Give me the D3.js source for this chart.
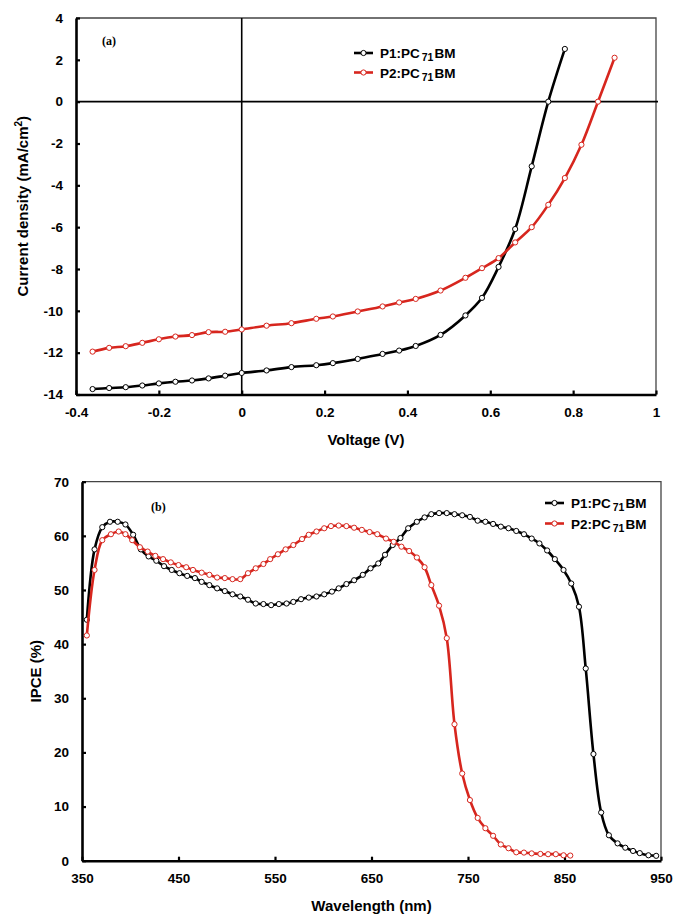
<!DOCTYPE html>
<html>
<head>
<meta charset="utf-8">
<script src="https://cdn.jsdelivr.net/npm/d3@7"></script>
<style>
  body { margin: 0; background: #fff; }
  svg text { font-family: "Liberation Sans", Arial, sans-serif; font-weight: bold; fill: #000; }
</style>
</head>
<body>
<div id="chart"></div>
<script>
// (a) J-V curves
var voltage_p1 = [-0.36, -0.32, -0.28, -0.24, -0.2, -0.16, -0.12, -0.08, -0.04, 0, 0.06, 0.12, 0.18, 0.22,
  0.28, 0.34, 0.38, 0.42, 0.48, 0.54, 0.58, 0.62, 0.66, 0.70, 0.74, 0.78];
var current_p1 = [-13.74, -13.69, -13.65, -13.57, -13.47, -13.39, -13.33, -13.23, -13.1, -12.97, -12.85, -12.69, -12.6, -12.5,
  -12.3, -12.06, -11.9, -11.68, -11.15, -10.22, -9.38, -7.9, -6.09, -3.09, 0, 2.52];
var voltage_p2 = [-0.36, -0.32, -0.28, -0.24, -0.2, -0.16, -0.12, -0.08, -0.04, 0, 0.06, 0.12, 0.18, 0.22,
  0.28, 0.34, 0.38, 0.42, 0.48, 0.54, 0.58, 0.62, 0.66, 0.70, 0.74, 0.78, 0.82, 0.86, 0.90];
var current_p2 = [-11.95, -11.77, -11.69, -11.53, -11.36, -11.23, -11.16, -11.02, -11.0, -10.89, -10.71, -10.59, -10.38, -10.27,
  -10.03, -9.79, -9.6, -9.43, -9.03, -8.42, -7.96, -7.48, -6.73, -6.0, -4.93, -3.65, -2.06, 0, 2.1];
var voltage_ticks = [-0.4, -0.2, 0, 0.2, 0.4, 0.6, 0.8, 1];
var current_ticks = [4, 2, 0, -2, -4, -6, -8, -10, -12, -14];

// (b) IPCE spectra
var wavelength_p1 = [355, 363, 371, 379, 387, 395, 403, 411, 419, 427, 435, 443, 451, 459, 467, 474, 482, 490, 498, 506,
  514, 522, 530, 538, 546, 554, 562, 569, 577, 585, 593, 601, 609, 616, 624, 632, 641, 649, 657, 664,
  672, 680, 688, 697, 705, 712, 720, 728, 736, 744, 752, 760, 768, 776, 784, 792, 800, 808, 816, 824,
  832, 840, 849, 857, 865, 872, 880, 888, 896, 905, 913, 921, 928, 937, 945];
var ipce_p1 = [44.5, 57.5, 61.6, 62.6, 62.6, 62.1, 60.2, 57.5, 56.2, 55.4, 54.4, 53.7, 53.1, 52.6, 52.2, 51.5, 50.9, 50.3, 49.8, 49.2,
  48.8, 48.2, 47.5, 47.4, 47.2, 47.4, 47.5, 47.8, 48.3, 48.6, 48.8, 49.2, 49.7, 50.3, 51.1, 51.8, 52.8, 54.0, 54.9, 56.5,
  58.3, 59.6, 61.4, 62.6, 63.4, 64.0, 64.2, 64.2, 64.0, 63.8, 63.5, 62.8, 62.6, 62.2, 61.7, 61.4, 60.9, 60.3, 59.5, 58.6,
  57.3, 55.7, 53.7, 51.2, 46.9, 35.5, 19.7, 8.9, 4.7, 3.2, 2.4, 1.8, 1.4, 1.0, 0.9];
var wavelength_p2 = [355, 363, 371, 380, 388, 395, 402, 410, 418, 426, 434, 442, 450, 458, 465, 474, 482, 490, 498, 506,
  514, 522, 530, 538, 545, 553, 561, 569, 578, 585, 593, 601, 608, 616, 624, 632, 640, 648, 656, 665,
  673, 681, 689, 697, 705, 712, 720, 728, 736, 744, 752, 760, 768, 776, 784, 792, 800, 808, 816, 825,
  833, 841, 849, 856];
var ipce_p2 = [41.6, 53.7, 59.2, 60.3, 60.8, 60.3, 59.2, 57.9, 57.1, 56.3, 55.7, 55.1, 54.6, 54.2, 53.7, 53.2, 52.8, 52.3, 52.2, 52.0,
  52.0, 53.1, 54.0, 54.8, 55.7, 56.6, 57.5, 58.3, 59.4, 60.2, 60.8, 61.4, 61.8, 61.9, 61.8, 61.5, 61.1, 60.7, 60.3, 59.5,
  58.9, 58.0, 57.2, 56.0, 54.2, 50.9, 47.1, 41.1, 25.2, 16.1, 11.2, 7.9, 6.0, 4.6, 3.0, 2.3, 1.55, 1.5, 1.35, 1.25,
  1.2, 1.2, 1.0, 0.95];
var wavelength_ticks = [350, 450, 550, 650, 750, 850, 950];
var ipce_ticks = [0, 10, 20, 30, 40, 50, 60, 70];

var series_names = ['P1:PC', 'P2:PC'];
var series_colors = ['#000000', '#d7261e'];

var svg = d3.select('#chart')
  .append('svg')
  .attr('width', 674)
  .attr('height', 916);

function zip(xs, ys) {
  return xs.map(function(x, i) { return { x: x, y: ys[i] }; });
}

// plain hyphen for negative tick labels, like the original
function tick_text(d) {
  return String(d);
}

// draws one panel: frame, axes, curves, legend
function draw_panel(opt) {
  var g = svg.append('g');
  var x = opt.x_scale, y = opt.y_scale;
  var x0 = x.range()[0], x1 = x.range()[1];
  var y0 = y.range()[0], y1 = y.range()[1];

  // thin top/right frame
  g.append('path')
    .attr('d', 'M' + x0 + ',' + y1 + 'H' + x1 + 'V' + y0)
    .attr('fill', 'none')
    .attr('stroke', '#444')
    .attr('stroke-width', 1.3);

  if (opt.zero_lines) {
    g.append('line')
      .attr('x1', x0).attr('x2', x1 + 2)
      .attr('y1', y(0)).attr('y2', y(0))
      .attr('stroke', '#000').attr('stroke-width', 1.6);
    g.append('line')
      .attr('x1', x(0)).attr('x2', x(0))
      .attr('y1', y1).attr('y2', y0)
      .attr('stroke', '#000').attr('stroke-width', 1.6);
  }

  var x_axis = g.append('g')
    .attr('transform', 'translate(0,' + y0 + ')')
    .call(d3.axisBottom(x).tickValues(opt.x_ticks).tickSizeInner(-4).tickSizeOuter(0)
      .tickPadding(13).tickFormat(tick_text));
  var y_axis = g.append('g')
    .attr('transform', 'translate(' + x0 + ',0)')
    .call(d3.axisLeft(y).tickValues(opt.y_ticks).tickSizeInner(-4).tickSizeOuter(0)
      .tickPadding(opt.y_pad).tickFormat(tick_text));
  [x_axis, y_axis].forEach(function(a) {
    a.select('.domain').attr('stroke', '#000').attr('stroke-width', 2.6);
    a.selectAll('.tick line').attr('stroke', '#000').attr('stroke-width', 2.2);
    a.selectAll('.tick text').attr('font-size', '13.5px').attr('fill', '#000');
  });

  var line = d3.line()
    .x(function(d) { return x(d.x); })
    .y(function(d) { return y(d.y); })
    .curve(d3.curveCatmullRom.alpha(0.5));

  opt.series.forEach(function(s, i) {
    g.append('path')
      .datum(s)
      .attr('d', line)
      .attr('fill', 'none')
      .attr('stroke', series_colors[i])
      .attr('stroke-width', 2.6);
    g.selectAll('circle.s' + i)
      .data(s)
      .enter()
      .append('circle')
      .attr('cx', function(d) { return x(d.x); })
      .attr('cy', function(d) { return y(d.y); })
      .attr('r', 2.6)
      .attr('fill', '#fff')
      .attr('stroke', series_colors[i])
      .attr('stroke-width', 1);
  });

  // legend
  series_names.forEach(function(name, i) {
    var ly = opt.legend_y + i * opt.legend_gap;
    var lx = opt.legend_x;
    g.append('line')
      .attr('x1', lx).attr('x2', lx + 19)
      .attr('y1', ly).attr('y2', ly)
      .attr('stroke', series_colors[i]).attr('stroke-width', 2.6);
    g.append('circle')
      .attr('cx', lx + 9.5).attr('cy', ly).attr('r', 2.6)
      .attr('fill', '#fff').attr('stroke', series_colors[i]).attr('stroke-width', 1);
    var t = g.append('text')
      .attr('x', lx + 26).attr('y', ly + 5)
      .attr('font-size', '13.5px');
    t.append('tspan').text(name);
    t.append('tspan').attr('font-size', '10.5px').attr('dx', 2).attr('dy', 3).text('71');
    t.append('tspan').attr('dx', 1).attr('dy', -3).text('BM');
  });

  // panel tag
  g.append('text')
    .attr('x', opt.tag_x).attr('y', opt.tag_y)
    .attr('font-size', '12px')
    .style('font-family', '"Liberation Serif", "Times New Roman", serif')
    .text(opt.tag);

  // axis titles
  g.append('text')
    .attr('x', (x0 + x1) / 2).attr('y', opt.x_title_y)
    .attr('text-anchor', 'middle')
    .attr('font-size', '15px')
    .text(opt.x_title);
  var yt = g.append('text')
    .attr('transform', 'translate(' + opt.y_title_x + ',' + (y0 + y1) / 2 + ') rotate(-90)')
    .attr('text-anchor', 'middle')
    .attr('font-size', '15px');
  opt.y_title.forEach(function(part) {
    var sp = yt.append('tspan').text(part.t);
    if (part.sup) sp.attr('font-size', '10px').attr('dy', -6);
    if (part.back) sp.attr('dy', 6);
  });
}

draw_panel({
  x_scale: d3.scaleLinear().domain([-0.4, 1]).range([76, 656]),
  y_scale: d3.scaleLinear().domain([-14, 4]).range([394.5, 18]),
  x_ticks: voltage_ticks,
  y_ticks: current_ticks,
  y_pad: 13,
  zero_lines: true,
  series: [zip(voltage_p1, current_p1), zip(voltage_p2, current_p2)],
  legend_x: 354, legend_y: 53, legend_gap: 19.5,
  tag: '(a)', tag_x: 102, tag_y: 45,
  x_title: 'Voltage (V)', x_title_y: 445,
  y_title: [{ t: 'Current density (mA/cm' }, { t: '2', sup: true }, { t: ')', back: true }],
  y_title_x: 28
});

draw_panel({
  x_scale: d3.scaleLinear().domain([350, 950]).range([82, 661]),
  y_scale: d3.scaleLinear().domain([0, 70]).range([860.7, 481.7]),
  x_ticks: wavelength_ticks,
  y_ticks: ipce_ticks,
  y_pad: 13,
  zero_lines: false,
  series: [zip(wavelength_p1, ipce_p1), zip(wavelength_p2, ipce_p2)],
  legend_x: 545, legend_y: 503, legend_gap: 20.5,
  tag: '(b)', tag_x: 151, tag_y: 511,
  x_title: 'Wavelength (nm)', x_title_y: 911,
  y_title: [{ t: 'IPCE (%)' }],
  y_title_x: 41
});
</script>
</body>
</html>
